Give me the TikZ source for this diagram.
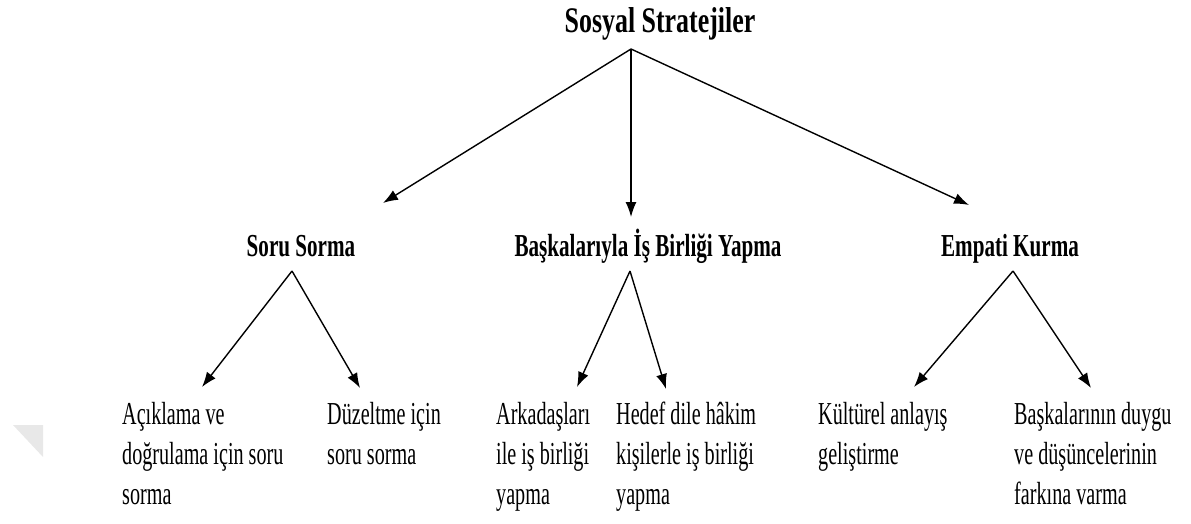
\documentclass[tikz,border=0pt]{standalone}
\usepackage{fontspec}
\setmainfont{Liberation Serif}
\newfontfamily\topfont{Liberation Serif}[FakeStretch=0.72]
\newfontfamily\midfont{Liberation Serif}[FakeStretch=0.66]
\newfontfamily\leaffont{Liberation Serif}[FakeStretch=0.63]
\usetikzlibrary{arrows.meta}
% leaf text: lines 40pt apart, baseline taken from the first line
\newcommand{\leaftext}[1]{\begin{tabular}[t]{@{}l@{}}#1\end{tabular}}
\tikzset{
  rootlabel/.style={inner sep=0pt, anchor=base, font=\topfont\bfseries\fontsize{36}{40}\selectfont},
  branchlabel/.style={inner sep=0pt, anchor=base, font=\midfont\bfseries\fontsize{32}{40}\selectfont},
  leaflabel/.style={inner sep=0pt, anchor=base west, font=\leaffont\fontsize{32}{40}\selectfont},
  link/.style={line width=1.4pt, -{Latex[length=15pt,width=11pt]}}
}
\begin{document}
\begin{tikzpicture}[x=1pt,y=-1pt]
\useasboundingbox (0,0) rectangle (1191,524);
% faint corner mark at the left margin
\fill[black!9] (13,425) -- (43,425) -- (43,457) -- cycle;

% root
\node[rootlabel] (root) at (660,33) {Sosyal Stratejiler};
\coordinate (rootfork) at (631,49);

% branches
\node[branchlabel] (soru) at (301,256) {Soru Sorma};
\node[branchlabel] (isbirligi) at (648,256) {Başkalarıyla İş Birliği Yapma};
\node[branchlabel] (empati) at (1010,256) {Empati Kurma};
\coordinate (soruin) at (383,203);
\coordinate (isbirligiin) at (631,217);
\coordinate (empatiin) at (969,205);
\coordinate (sorufork) at (292,271);
\coordinate (isbirligifork) at (630,271);
\coordinate (empatifork) at (1013,271);

% leaves
\node[leaflabel] (aciklama) at (122,424) {\leaftext{Açıklama ve\\doğrulama için soru\\sorma}};
\node[leaflabel] (duzeltme) at (327,424) {\leaftext{Düzeltme için\\soru sorma}};
\node[leaflabel] (arkadas) at (496,424) {\leaftext{Arkadaşları\\ile iş birliği\\yapma}};
\node[leaflabel] (hedef) at (616,424) {\leaftext{Hedef dile hâkim\\kişilerle iş birliği\\yapma}};
\node[leaflabel] (kultur) at (818,424) {\leaftext{Kültürel anlayış\\geliştirme}};
\node[leaflabel] (duygu) at (1014,424) {\leaftext{Başkalarının duygu\\ve düşüncelerinin\\farkına varma}};
\coordinate (aciklamain) at (202,387);
\coordinate (duzeltmein) at (360,388);
\coordinate (arkadasin) at (577,387);
\coordinate (hedefin) at (666,389);
\coordinate (kulturin) at (914,387);
\coordinate (duyguin) at (1091,388);

% connectors
\draw[link] (rootfork) -- (soruin);
\draw[link] (rootfork) -- (isbirligiin);
\draw[link] (rootfork) -- (empatiin);
\draw[link] (sorufork) -- (aciklamain);
\draw[link] (sorufork) -- (duzeltmein);
\draw[link] (isbirligifork) -- (arkadasin);
\draw[link] (isbirligifork) -- (hedefin);
\draw[link] (empatifork) -- (kulturin);
\draw[link] (empatifork) -- (duyguin);
\end{tikzpicture}
\end{document}
